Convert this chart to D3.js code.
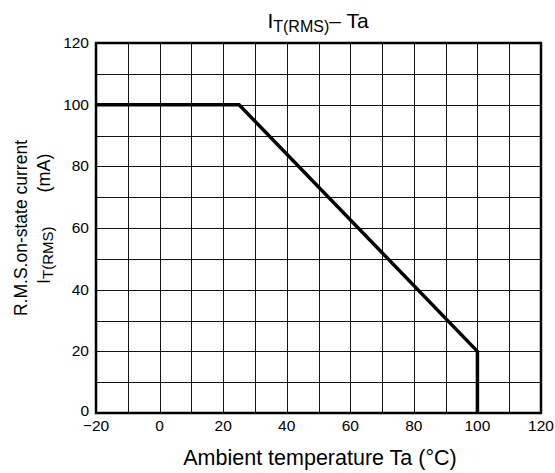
<!DOCTYPE html>
<html>
<head>
<meta charset="utf-8">
<script src="https://cdn.jsdelivr.net/npm/d3@7"></script>
<style>
  body { margin: 0; background: #fff; }
  svg { display: block; font-family: "Liberation Sans", Arial, sans-serif; }
</style>
</head>
<body>
<div id="chart"></div>
<script>
// derating curve
const tempValues = [-20, 25, 100, 100];
const currentValues = [100, 100, 20, 0];
const xTicks = [-20, 0, 20, 40, 60, 80, 100, 120];
const yTicks = [0, 20, 40, 60, 80, 100, 120];

const W = 555, H = 473;
const svg = d3.select('#chart').append('svg')
    .attr('width', W)
    .attr('height', H);

const x = d3.scaleLinear().domain([-20, 120]).range([96, 541]);
const y = d3.scaleLinear().domain([0, 120]).range([413, 43]);

// grid every 10
const grid = svg.append('g')
    .attr('stroke', '#111')
    .attr('stroke-width', 1);

grid.selectAll('line.v')
  .data(d3.range(-10, 120, 10))
  .join('line')
    .attr('class', 'v')
    .attr('x1', d => Math.round(x(d)) + 0.5)
    .attr('x2', d => Math.round(x(d)) + 0.5)
    .attr('y1', y(120))
    .attr('y2', y(0));

grid.selectAll('line.h')
  .data(d3.range(10, 120, 10))
  .join('line')
    .attr('class', 'h')
    .attr('y1', d => Math.round(y(d)) + 0.5)
    .attr('y2', d => Math.round(y(d)) + 0.5)
    .attr('x1', x(-20))
    .attr('x2', x(120));

// frame
svg.append('rect')
    .attr('x', x(-20))
    .attr('y', y(120))
    .attr('width', x(120) - x(-20))
    .attr('height', y(0) - y(120))
    .attr('fill', 'none')
    .attr('stroke', '#000')
    .attr('stroke-width', 2.5);

// curve
const line = d3.line()
    .x((d, i) => x(tempValues[i]))
    .y((d, i) => y(currentValues[i]));

svg.append('path')
    .datum(tempValues)
    .attr('d', line)
    .attr('fill', 'none')
    .attr('stroke', '#000')
    .attr('stroke-width', 3.5)
    .attr('stroke-linejoin', 'miter');

// tick labels
const fmt = d => d < 0 ? '\u2212' + Math.abs(d) : String(d);

svg.append('g').selectAll('text')
  .data(xTicks)
  .join('text')
    .attr('x', d => x(d))
    .attr('y', 431)
    .attr('text-anchor', 'middle')
    .attr('font-size', 15.5)
    .text(fmt);

svg.append('g').selectAll('text')
  .data(yTicks)
  .join('text')
    .attr('x', 89)
    .attr('y', d => d === 0 ? y(d) + 3 : y(d) + 5)
    .attr('text-anchor', 'end')
    .attr('font-size', 15.5)
    .text(fmt);

// title
const title = svg.append('text')
    .attr('x', 318)
    .attr('y', 28)
    .attr('text-anchor', 'middle')
    .attr('font-size', 21);
title.append('tspan').text('I');
title.append('tspan').attr('font-size', 16).attr('dy', 4).text('T(RMS)');
title.append('tspan').attr('dy', -4).text('\u2013 Ta');

// x axis title
svg.append('text')
    .attr('x', 320)
    .attr('y', 465)
    .attr('text-anchor', 'middle')
    .attr('font-size', 21.5)
    .text('Ambient temperature Ta (\u00b0C)');

// y axis title, two lines
const yt = svg.append('g').attr('transform', 'rotate(-90)');
yt.append('text')
    .attr('x', -228)
    .attr('y', 27)
    .attr('text-anchor', 'middle')
    .attr('font-size', 17.5)
    .text('R.M.S.on-state current');

const yt2 = yt.append('text')
    .attr('x', -284)
    .attr('y', 50)
    .attr('font-size', 18);
yt2.append('tspan').text('I');
yt2.append('tspan').attr('font-size', 15).attr('dy', 3).text('T(RMS)');
yt2.append('tspan').attr('dy', -3).attr('dx', 34).text('(mA)');
</script>
</body>
</html>
